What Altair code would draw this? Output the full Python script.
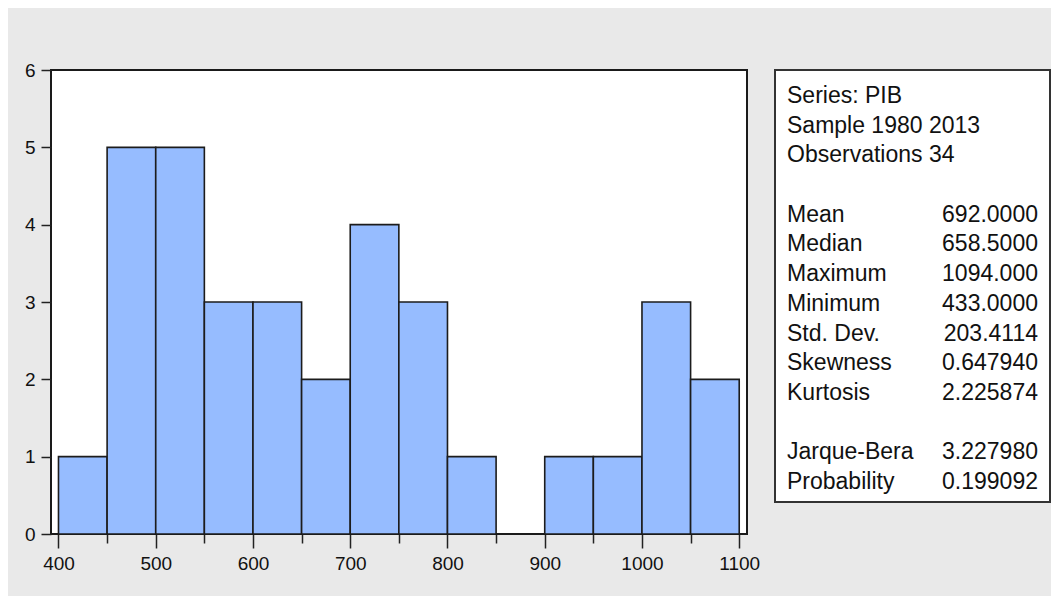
import altair as alt
import pandas as pd

# ---- histogram data (EViews-style descriptive statistics of PIB) ----
bin_start = [400, 450, 500, 550, 600, 650, 700, 750, 800, 850, 900, 950, 1000, 1050]
bin_end = [450, 500, 550, 600, 650, 700, 750, 800, 850, 900, 950, 1000, 1050, 1100]
counts = [1, 5, 5, 3, 3, 2, 4, 3, 1, 0, 1, 1, 3, 2]

major_ticks = [400, 500, 600, 700, 800, 900, 1000, 1100]
minor_ticks = [450, 550, 650, 750, 850, 950, 1050]
y_ticks = [0, 1, 2, 3, 4, 5, 6]

# ---- statistics box ----
stat_rows = [0, 1, 2, 4, 5, 6, 7, 8, 9, 10, 12, 13]
stat_labels = ["Series: PIB", "Sample 1980 2013", "Observations 34",
               "Mean", "Median", "Maximum", "Minimum", "Std. Dev.",
               "Skewness", "Kurtosis", "Jarque-Bera", "Probability"]
stat_values = ["", "", "",
               "692.0000", "658.5000", "1094.000", "433.0000", "203.4114",
               "0.647940", "2.225874", "3.227980", "0.199092"]

FONT = "Liberation Sans"
TXT = "#111111"

hist = pd.DataFrame({"start": bin_start, "end": bin_end, "count": counts})
stats = pd.DataFrame({"row": stat_rows, "label": stat_labels, "value": stat_values})

xscale = alt.Scale(domain=[392.3, 1108.0], nice=False, zero=False)
yscale = alt.Scale(domain=[0, 6], nice=False)

bars = alt.Chart(hist).mark_bar(
    fill="#96bcff", stroke="#1c1c1c", strokeWidth=1.6
).encode(
    x=alt.X("start:Q", scale=xscale,
            axis=alt.Axis(values=major_ticks, orient="bottom", tickSize=14,
                          labelPadding=6, domain=False, grid=False, title=None,
                          format="d",
                          labelFont=FONT, labelFontSize=19, labelColor=TXT,
                          tickColor="#222222", tickWidth=1.5,
                          labelFlush=False, labelOverlap=False)),
    x2="end:Q",
    y=alt.Y("count:Q", scale=yscale,
            axis=alt.Axis(values=y_ticks, tickSize=10, labelPadding=6,
                          domain=False, grid=False, title=None, format="d",
                          labelFont=FONT, labelFontSize=19, labelColor=TXT,
                          tickColor="#222222", tickWidth=1.5,
                          labelFlush=False, labelOverlap=False)),
    y2=alt.datum(0),
)

minor = alt.Chart(hist).mark_bar(opacity=0).encode(
    x=alt.X("start:Q", scale=xscale,
            axis=alt.Axis(values=minor_ticks, orient="bottom", tickSize=9,
                          labels=False, domain=False, grid=False, title=None,
                          tickColor="#222222", tickWidth=1.5)),
    x2="end:Q",
    y=alt.Y("count:Q", scale=yscale),
    y2=alt.datum(0),
)

left = alt.layer(bars, minor).resolve_axis(x="independent").properties(
    width=696, height=464,
    view=alt.ViewBackground(fill="white", stroke="#1a1a1a", strokeWidth=2),
)

yrow = alt.Y("row:Q",
             scale=alt.Scale(domain=[-0.876, 13.673], reverse=True, nice=False, zero=False),
             axis=None)

lbl = alt.Chart(stats).mark_text(
    align="left", baseline="middle", font=FONT, fontSize=23, color=TXT
).encode(x=alt.value(12), y=yrow, text="label:N")

val = alt.Chart(stats).mark_text(
    align="right", baseline="middle", font=FONT, fontSize=23, color=TXT
).encode(x=alt.value(263), y=yrow, text="value:N")

right = alt.layer(lbl, val).properties(
    width=275, height=432,
    view=alt.ViewBackground(fill="white", stroke="#333333", strokeWidth=2),
)

chart = alt.hconcat(left, right, spacing=28, bounds="flush").properties(
    background="#e9e9e9",
    padding={"left": 15, "top": 52, "right": 0, "bottom": 22},
)

chart.save("out.html", embed_options={"renderer": "svg", "actions": False})
